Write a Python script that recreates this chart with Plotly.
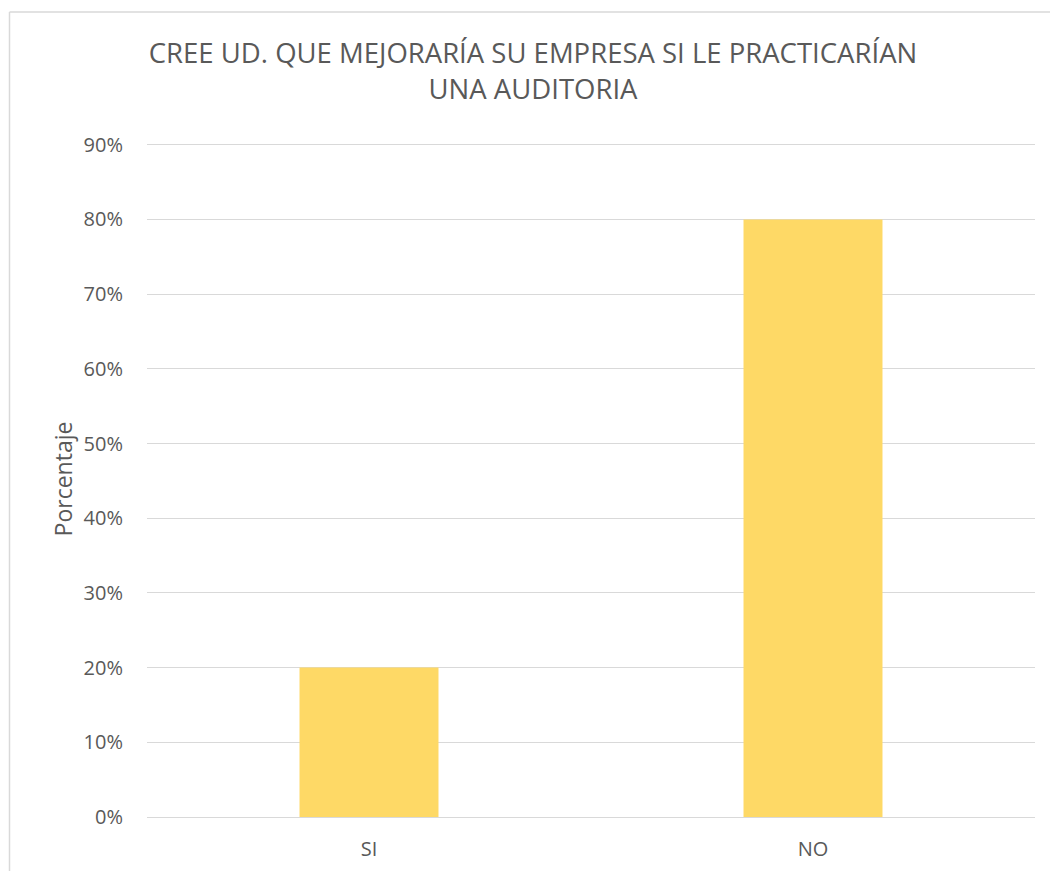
import plotly.graph_objects as go

categories = ["SI", "NO"]
values = [0.20, 0.80]
tick_vals = [0, 0.1, 0.2, 0.3, 0.4, 0.5, 0.6, 0.7, 0.8, 0.9]
tick_text = ["0%", "10%", "20%", "30%", "40%", "50%", "60%", "70%", "80%", "90%"]
title_text = "CREE UD. QUE MEJORARÍA SU EMPRESA SI LE PRACTICARÍAN<br>UNA AUDITORIA"
y_title = "Porcentaje"

FONT = "Open Sans"
GREY = "#595959"

fig = go.Figure(go.Bar(
    x=categories, y=values,
    marker=dict(color="#FED966", line=dict(width=0)),
    width=0.313,
))

# page has an 8px body margin; figure coordinates are offset by 8
W, H = 1050, 863
L, R, T, B = 139, 23, 133, 54
pw, ph = W - L - R, H - T - B

def px(xp):
    return (xp - L) / pw

def py(yp):
    return (H - B - yp) / ph

fig.update_layout(
    width=W, height=H,
    margin=dict(l=L, r=R, t=T, b=B, pad=0, autoexpand=False),
    paper_bgcolor="white", plot_bgcolor="white",
    font=dict(family=FONT, color=GREY),
    title=dict(text=title_text, x=525 / W, xanchor="center", y=1 - 55 / H, yanchor="middle",
               font=dict(size=27.5, color=GREY, family=FONT)),
    showlegend=False,
    bargap=0.687,
    xaxis=dict(showgrid=False, showline=False, zeroline=False, automargin=False,
               tickfont=dict(size=20, color=GREY),
               ticks="outside", ticklen=14, tickcolor="rgba(0,0,0,0)"),
    yaxis=dict(range=[0, 0.905], tickvals=tick_vals, ticktext=tick_text, automargin=False,
               showgrid=True, gridcolor="#D9D9D9", gridwidth=1.3,
               zeroline=True, zerolinecolor="#D9D9D9", zerolinewidth=1.3,
               showline=False, tickfont=dict(size=20, color=GREY),
               ticks="outside", ticklen=19, tickcolor="rgba(0,0,0,0)",
               title=dict(text=y_title, font=dict(size=23, color=GREY), standoff=4)),
    shapes=[
        dict(type="line", xref="paper", yref="paper", x0=px(1.5), x1=px(1.5), y0=py(4), y1=py(900),
             line=dict(color="#D9D9D9", width=1.5)),
        dict(type="line", xref="paper", yref="paper", x0=px(1.5), x1=px(1100), y0=py(4), y1=py(4),
             line=dict(color="#D9D9D9", width=1.5)),
    ],
)

fig.write_html("out.html")
